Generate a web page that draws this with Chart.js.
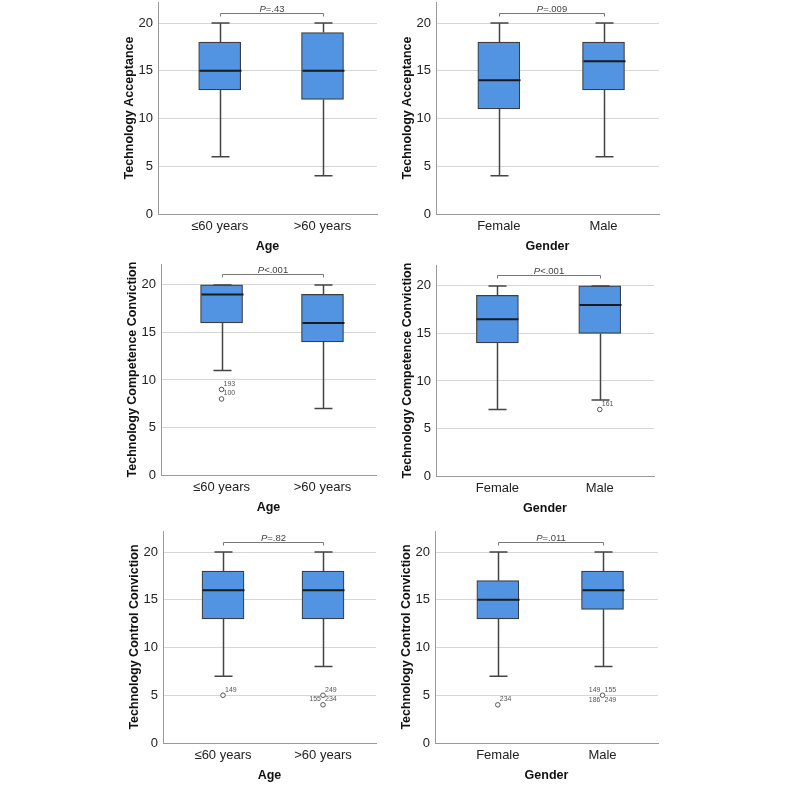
<!DOCTYPE html>
<html>
<head>
<meta charset="utf-8">
<script src="https://cdn.jsdelivr.net/npm/chart.js@4.4.1/dist/chart.umd.min.js"></script>
<style>
  html, body { margin: 0; padding: 0; background: #fff; }
  #wrap { position: relative; width: 800px; height: 800px; }
  #wrap canvas { position: absolute; }
</style>
</head>
<body>
<div id="wrap"></div>
<script>
const ageGroups = ['≤60 years', '>60 years'];
const genderGroups = ['Female', 'Male'];
const yTickValues = [0, 5, 10, 15, 20];

// five-number summaries per group: [min, q1, median, q3, max]
const acceptanceByAge = [[6, 13, 15, 18, 20], [4, 12, 15, 19, 20]];
const acceptanceByGender = [[4, 11, 14, 18, 20], [6, 13, 16, 18, 20]];
const competenceByAge = [[11, 16, 19, 20, 20], [7, 14, 16, 19, 20]];
const competenceByGender = [[7, 14, 16.5, 19, 20], [8, 15, 18, 20, 20]];
const controlByAge = [[7, 13, 16, 18, 20], [8, 13, 16, 18, 20]];
const controlByGender = [[7, 13, 15, 17, 20], [8, 14, 16, 18, 20]];

// outliers: [group index, value, case numbers]
const competenceAgeOutliers = [[0, 9, ['193']], [0, 8, ['100']]];
const competenceGenderOutliers = [[1, 7, ['161']]];
const controlAgeOutliers = [[0, 5, ['149']], [1, 5, ['249']], [1, 4, ['234', '155']]];
const controlGenderOutliers = [[0, 4, ['234']], [1, 5, ['155', '149', '249', '186']]];

const pValues = ['=.43', '=.009', '<.001', '<.001', '=.82', '=.011'];

Chart.defaults.font.family = "'Liberation Sans', Arial, sans-serif";
Chart.defaults.color = '#222';

const BOX_W = 42;

const boxParts = {
  id: 'boxParts',
  afterDatasetsDraw(chart, args, opts) {
    const ctx = chart.ctx;
    const xs = chart.scales.x, ys = chart.scales.y;
    const centers = [];
    ctx.save();
    opts.stats.forEach((s, i) => {
      const x = Math.round(xs.getPixelForValue(i + 1)) + 0.5;
      centers.push(x);
      const [mn, q1, md, q3, mx] = s.map(v => ys.getPixelForValue(v));
      ctx.strokeStyle = '#444';
      ctx.lineWidth = 1.5;
      ctx.beginPath();
      ctx.moveTo(x, q1); ctx.lineTo(x, mn);
      ctx.moveTo(x, q3); ctx.lineTo(x, mx);
      ctx.moveTo(x - 9, mn); ctx.lineTo(x + 9, mn);
      ctx.moveTo(x - 9, mx); ctx.lineTo(x + 9, mx);
      ctx.stroke();
      ctx.strokeStyle = '#1a1a1a';
      ctx.lineWidth = 2;
      ctx.beginPath();
      ctx.moveTo(x - BOX_W / 2, md); ctx.lineTo(x + BOX_W / 2, md);
      ctx.stroke();
    });

    // case labels next to outliers
    const slots = [[2, -5.5, 'left'], [-2, -5.5, 'right'], [2, 5, 'left'], [-2, 5, 'right']];
    ctx.font = "7px 'Liberation Sans', Arial, sans-serif";
    ctx.fillStyle = '#555';
    ctx.textBaseline = 'middle';
    opts.outliers.forEach(([g, v, ids]) => {
      const x = xs.getPixelForValue(g + 1), y = ys.getPixelForValue(v);
      ids.forEach((id, k) => {
        const [dx, dy, al] = slots[k];
        ctx.textAlign = al;
        ctx.fillText(id, x + dx, y + dy);
      });
    });

    // significance bracket
    const by = Math.round(ys.getPixelForValue(21.1)) + 0.5;
    ctx.strokeStyle = '#777';
    ctx.lineWidth = 1;
    ctx.beginPath();
    ctx.moveTo(centers[0], by + 3); ctx.lineTo(centers[0], by);
    ctx.lineTo(centers[1], by); ctx.lineTo(centers[1], by + 3);
    ctx.stroke();
    const fItal = "italic 9.5px 'Liberation Sans', Arial, sans-serif";
    const fReg = "9.5px 'Liberation Sans', Arial, sans-serif";
    ctx.font = fItal;
    const wP = ctx.measureText('P').width;
    ctx.font = fReg;
    const wR = ctx.measureText(opts.p).width;
    const sx = (centers[0] + centers[1]) / 2 - (wP + wR) / 2;
    ctx.fillStyle = '#444';
    ctx.textAlign = 'left';
    ctx.textBaseline = 'alphabetic';
    ctx.font = fItal;
    ctx.fillText('P', sx, by - 2);
    ctx.font = fReg;
    ctx.fillText(opts.p, sx + wP, by - 2);
    ctx.restore();
  }
};

const panels = [
  {area: [158, 2, 377, 214], groups: ageGroups, stats: acceptanceByAge, outliers: [], p: pValues[0], yTitle: 'Technology Acceptance', xTitle: 'Age'},
  {area: [436, 2, 659, 214], groups: genderGroups, stats: acceptanceByGender, outliers: [], p: pValues[1], yTitle: 'Technology Acceptance', xTitle: 'Gender'},
  {area: [161, 261, 377, 475], groups: ageGroups, stats: competenceByAge, outliers: competenceAgeOutliers, p: pValues[2], yTitle: 'Technology Competence Conviction', xTitle: 'Age'},
  {area: [436, 262, 655, 476], groups: genderGroups, stats: competenceByGender, outliers: competenceGenderOutliers, p: pValues[3], yTitle: 'Technology Competence Conviction', xTitle: 'Gender'},
  {area: [163, 528, 377, 743], groups: ageGroups, stats: controlByAge, outliers: controlAgeOutliers, p: pValues[4], yTitle: 'Technology Control Conviction', xTitle: 'Age'},
  {area: [435, 528, 659, 743], groups: genderGroups, stats: controlByGender, outliers: controlGenderOutliers, p: pValues[5], yTitle: 'Technology Control Conviction', xTitle: 'Gender'}
];

const Y_W = 44, X_H = 48;
const wrap = document.getElementById('wrap');

panels.forEach(p => {
  const [l, t, r, b] = p.area;
  const c = document.createElement('canvas');
  c.width = r - l + Y_W + 4;
  c.height = b - t + 2 + X_H;
  c.style.left = (l - Y_W) + 'px';
  c.style.top = (t - 2) + 'px';
  wrap.appendChild(c);

  new Chart(c, {
    type: 'bar',
    data: {
      datasets: [{
        data: p.stats.map((s, i) => ({x: i + 1, y: [s[1], s[3]]})),
        backgroundColor: '#5294e2',
        borderColor: '#3d3d3d',
        borderWidth: 1.2,
        borderSkipped: false,
        barThickness: BOX_W
      }, {
        type: 'scatter',
        data: p.outliers.map(o => ({x: o[0] + 1, y: o[1]})),
        pointRadius: 2.3,
        pointBackgroundColor: '#fff',
        pointBorderColor: '#555',
        pointBorderWidth: 1
      }]
    },
    options: {
      responsive: false,
      animation: false,
      layout: {padding: {left: 0, top: 2, right: 4, bottom: 0}},
      plugins: {
        legend: {display: false},
        tooltip: {enabled: false},
        boxParts: {stats: p.stats, outliers: p.outliers, p: p.p}
      },
      scales: {
        x: {
          type: 'linear',
          min: 0.4,
          max: 2.53,
          offset: false,
          afterBuildTicks: s => { s.ticks = p.groups.map((g, i) => ({value: i + 1})); },
          afterFit: s => { s.height = X_H; },
          ticks: {
            callback: v => p.groups[v - 1],
            maxRotation: 0,
            autoSkip: false,
            padding: 5,
            color: '#222',
            font: {size: 13}
          },
          grid: {display: false, drawTicks: false},
          border: {display: true, color: '#9a9a9a', width: 1},
          title: {display: true, text: p.xTitle, color: '#111', font: {size: 12.5, weight: 'bold'}, padding: {top: 0, bottom: 8}}
        },
        y: {
          min: 0,
          max: 22.2,
          afterBuildTicks: s => { s.ticks = yTickValues.map(v => ({value: v})); },
          afterFit: s => { s.width = Y_W; s.paddingTop = 0; s.paddingBottom = 0; },
          ticks: {padding: 5, color: '#222', font: {size: 13}},
          grid: {
            drawTicks: false,
            color: ctx => ctx.tick && ctx.tick.value === 0 ? 'rgba(0,0,0,0)' : '#d6d6d6',
            lineWidth: 1
          },
          border: {display: true, color: '#9a9a9a', width: 1},
          title: {display: true, text: p.yTitle, color: '#111', font: {size: 12.5, weight: 'bold'}, padding: {top: 8, bottom: 0}}
        }
      }
    },
    plugins: [boxParts]
  });
});
</script>
</body>
</html>
